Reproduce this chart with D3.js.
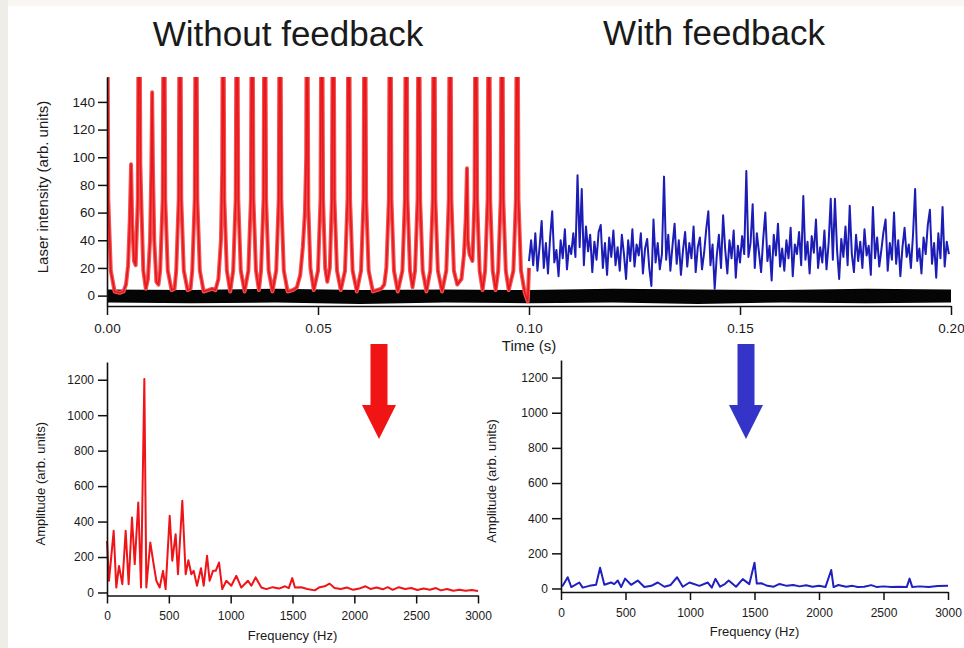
<!DOCTYPE html>
<html>
<head>
<meta charset="utf-8">
<script src="https://cdn.jsdelivr.net/npm/d3@7"></script>
<style>
  body { margin: 0; background: #fff; }
  svg { display: block; }
  text { font-family: "Liberation Sans", Arial, sans-serif; fill: #1a1a1a; }
</style>
</head>
<body>
<div id="chart"></div>
<script>
// ---- data ----

// time axis ticks and intensity ticks (top panel)
let timeTicks = [0, 0.05, 0.10, 0.15, 0.20];
let intensityTicks = [0, 20, 40, 60, 80, 100, 120, 140];
let freqTicks = [0, 500, 1000, 1500, 2000, 2500, 3000];
let ampTicks = [0, 200, 400, 600, 800, 1000, 1200];

// red trace, without feedback: [time (s), intensity]; full spikes run off the top
let redTrace = [
  [0.0000, 300], [0.0003, 70], [0.0009, 18], [0.0018, 3], [0.0030, 2], [0.0039, 3],
  [0.0045, 8], [0.0050, 22], [0.0054, 55], [0.0057, 95], [0.0060, 50], [0.0064, 25],
  [0.0068, 22], [0.0073, 70], [0.0076, 300], [0.0079, 95], [0.0082, 60], [0.0086, 18], [0.0092, 5],
  [0.0097, 12], [0.0102, 40], [0.0105, 90], [0.0107, 147], [0.0109, 90], [0.0112, 40], [0.0117, 10], [0.0122, 8],
  [0.0126, 18], [0.0132, 70], [0.0135, 300], [0.0138, 70], [0.0144, 18], [0.0153, 4],
  [0.0160, 5], [0.0164, 18], [0.0170, 70], [0.0173, 300], [0.0176, 70], [0.0182, 18], [0.0191, 4],
  [0.0198, 5], [0.0202, 18], [0.0208, 70], [0.0211, 300], [0.0214, 70], [0.0220, 18], [0.0229, 3],
  [0.0240, 4], [0.0250, 5],
  [0.0257, 4], [0.0264, 12], [0.0270, 40], [0.0273, 90], [0.0275, 300], [0.0278, 70], [0.0284, 18], [0.0292, 3],
  [0.0299, 18], [0.0305, 70], [0.0308, 300], [0.0311, 70], [0.0317, 18], [0.0326, 3],
  [0.0335, 18], [0.0341, 70], [0.0344, 300], [0.0347, 70], [0.0353, 18], [0.0360, 4],
  [0.0365, 18], [0.0371, 70], [0.0374, 300], [0.0377, 70], [0.0383, 18], [0.0392, 3],
  [0.0401, 18], [0.0407, 70], [0.0410, 300], [0.0413, 70], [0.0419, 18], [0.0428, 3],
  [0.0440, 4],
  [0.0450, 6], [0.0458, 15], [0.0464, 35], [0.0469, 60], [0.0472, 100], [0.0474, 300], [0.0477, 65], [0.0482, 20], [0.0490, 4],
  [0.0500, 18], [0.0506, 70], [0.0509, 300], [0.0512, 70], [0.0517, 20], [0.0522, 10],
  [0.0528, 20], [0.0533, 70], [0.0536, 300], [0.0539, 70], [0.0545, 18], [0.0554, 4],
  [0.0564, 18], [0.0570, 70], [0.0573, 300], [0.0576, 70], [0.0582, 18], [0.0592, 3],
  [0.0602, 18], [0.0608, 70], [0.0611, 300], [0.0614, 70], [0.0620, 18], [0.0630, 3],
  [0.0640, 4], [0.0650, 5],
  [0.0657, 8], [0.0662, 20], [0.0668, 70], [0.0671, 300], [0.0674, 70], [0.0680, 18], [0.0689, 3],
  [0.0700, 18], [0.0706, 70], [0.0709, 300], [0.0712, 70], [0.0718, 18], [0.0724, 6],
  [0.0730, 18], [0.0736, 70], [0.0739, 300], [0.0742, 70], [0.0748, 18], [0.0757, 3],
  [0.0766, 18], [0.0772, 70], [0.0775, 300], [0.0778, 70], [0.0784, 18], [0.0794, 3],
  [0.0804, 18], [0.0810, 70], [0.0813, 300], [0.0816, 70], [0.0822, 18], [0.0830, 8],
  [0.0840, 12], [0.0846, 30], [0.0850, 55], [0.0853, 92], [0.0855, 40], [0.0859, 30],
  [0.0866, 25], [0.0871, 70], [0.0874, 300], [0.0877, 70], [0.0883, 18], [0.0890, 4],
  [0.0896, 18], [0.0902, 70], [0.0905, 300], [0.0908, 70], [0.0914, 18], [0.0921, 4],
  [0.0927, 18], [0.0933, 70], [0.0936, 300], [0.0939, 70], [0.0945, 18], [0.0952, 4],
  [0.0963, 18], [0.0969, 70], [0.0972, 300], [0.0975, 70], [0.0981, 18], [0.0990, 2], [0.0997, -4], [0.1000, 20]
];

// blue trace, with feedback: starts at 0.100 s, one value every 0.5 ms
let blueStart = 0.100;
let blueStep = 0.0005;
let blueValues = [
  25, 40, 22, 45, 18, 35, 54, 20, 38, 16, 42, 61, 24, 33, 14, 40, 27, 48, 19, 36,
  30, 45, 28, 87, 35, 77, 22, 50, 32, 44, 17, 39, 26, 46, 51, 20, 38, 15, 42, 28,
  47, 22, 35, 18, 44, 30, 12, 40, 25, 48, 21, 37, 29, 45, 16, 34, 41, 20, 7, 55,
  24, 38, 19, 30, 86, 26, 44, 18, 36, 52, 23, 40, 15, 33, 46, 21, 38, 27, 50, 17,
  35, 42, 19, 31, 48, 61, 22, 37, 5, 29, 44, 20, 58, 33, 16, 40, 27, 47, 13, 36,
  24, 43, 30, 90, 28, 38, 66, 20, 45, 31, 17, 41, 60, 25, 36, 11, 44, 29, 52, 21,
  34, 18, 40, 27, 49, 14, 37, 30, 46, 22, 72, 26, 39, 16, 43, 31, 55, 20, 35, 24,
  47, 19, 38, 70, 26, 70, 33, 12, 41, 28, 50, 22, 65, 30, 17, 44, 25, 39, 20, 48,
  29, 36, 15, 64, 27, 42, 21, 33, 46, 55, 18, 38, 26, 60, 23, 40, 14, 35, 49, 28,
  37, 20, 44, 77, 25, 34, 16, 42, 30, 51, 62, 23, 38, 13, 45, 27, 64, 21, 39, 30
];

// black reference trace (dense noise band around zero): envelope
let blackTime = [0, 0.02, 0.04, 0.06, 0.08, 0.10, 0.12, 0.14, 0.16, 0.18, 0.20];
let blackHigh = [4.5, 4, 5, 4, 4.5, 4, 5, 4.5, 4, 5, 4.5];
let blackLow  = [-5, -5.5, -5, -6, -5, -5.5, -5, -6, -5, -5.5, -5];

// spectra: [frequency (Hz), amplitude]
let redSpectrum = [
  [0, 290], [16, 66], [54, 348], [75, 28], [97, 150], [124, 47], [151, 348], [175, 47],
  [202, 423], [224, 160], [253, 508], [275, 28], [302, 1204], [318, 28], [350, 282], [377, 160],
  [399, 66], [426, 28], [453, 122], [474, 19], [507, 433], [528, 179], [555, 329], [574, 103],
  [609, 517], [636, 103], [658, 182], [682, 103], [701, 122], [728, 38], [760, 137], [782, 38],
  [809, 207], [830, 66], [857, 122], [879, 122], [906, 169], [932, 19], [965, 66], [1005, 38],
  [1046, 94], [1086, 28], [1140, 66], [1167, 38], [1202, 85], [1248, 28], [1288, 19], [1340, 30],
  [1390, 22], [1440, 35], [1470, 25], [1498, 81], [1520, 28], [1570, 30], [1620, 20], [1680, 12],
  [1720, 30], [1760, 35], [1800, 50], [1840, 25], [1890, 20], [1940, 28], [1990, 15], [2040, 22],
  [2090, 35], [2130, 20], [2180, 28], [2230, 18], [2270, 30], [2310, 15], [2360, 30], [2410, 20],
  [2460, 25], [2510, 14], [2560, 22], [2610, 15], [2660, 25], [2700, 12], [2750, 20], [2800, 10],
  [2850, 15], [2900, 10], [2950, 14], [3000, 9]
];
let blueSpectrum = [
  [0, 15], [13, 15], [52, 64], [80, 8], [110, 20], [142, 34], [168, 5], [220, 15],
  [272, 21], [303, 118], [336, 21], [388, 34], [413, 25], [440, 45], [466, 8], [497, 56],
  [543, 21], [595, 45], [646, 8], [700, 15], [750, 34], [802, 10], [850, 20], [900, 64],
  [944, 10], [996, 34], [1073, 15], [1138, 34], [1169, 5], [1197, 55], [1233, 10], [1270, 25],
  [1300, 45], [1357, 10], [1409, 53], [1460, 25], [1500, 147], [1518, 28], [1553, 30], [1600, 15],
  [1650, 10], [1694, 26], [1750, 15], [1800, 20], [1850, 12], [1900, 18], [1950, 10], [2000, 15],
  [2050, 8], [2095, 105], [2113, 8], [2150, 20], [2210, 10], [2260, 15], [2300, 8], [2350, 10],
  [2405, 19], [2450, 8], [2500, 12], [2560, 8], [2620, 10], [2680, 8], [2702, 56], [2723, 8],
  [2780, 12], [2850, 8], [2920, 14], [3000, 15]
];

// ---- layout ----
let svg_width = 964;
let svg_height = 648;
let red = '#e8161b';
let blue = '#1c1cb6';

let svg = d3.select('#chart')
            .append('svg')
            .attr('width', svg_width)
            .attr('height', svg_height);

// page frame: beige strip on the left and top
svg.append('rect').attr('x', 0).attr('y', 0).attr('width', svg_width).attr('height', svg_height).attr('fill', '#fff');
svg.append('rect').attr('x', 0).attr('y', 0).attr('width', svg_width).attr('height', 6).attr('fill', '#faf6f1');
svg.append('rect').attr('x', 0).attr('y', 0).attr('width', 8).attr('height', svg_height).attr('fill', '#efede7');

// titles
svg.append('text').attr('x', 288).attr('y', 46).attr('text-anchor', 'middle')
   .attr('font-size', 35).text('Without feedback');
svg.append('text').attr('x', 714).attr('y', 45).attr('text-anchor', 'middle')
   .attr('font-size', 35).text('With feedback');

// helper for Igor-like axes
function styleAxis(g, fontSize){
    g.select('.domain').attr('stroke', '#111').attr('stroke-width', 1.6);
    g.selectAll('.tick line').attr('stroke', '#111').attr('stroke-width', 1.5);
    g.selectAll('.tick text').attr('font-size', fontSize).attr('fill', '#222')
     .attr('font-family', '"Liberation Sans", Arial, sans-serif');
}

// ---------- top panel: laser intensity vs time ----------
let topX = d3.scaleLinear().domain([0, 0.2]).range([107, 951]);
let topY = d3.scaleLinear().domain([-7.5, 158]).range([306, 77]);

svg.append('clipPath').attr('id', 'clipTop')
   .append('rect').attr('x', 107).attr('y', 77).attr('width', 844).attr('height', 229);

let topPlot = svg.append('g').attr('clip-path', 'url(#clipTop)');

// black noise band
let blackBand = blackTime.map((t, i) => [t, blackLow[i], blackHigh[i]]);
topPlot.append('path')
   .datum(blackBand)
   .attr('d', d3.area().x(d => topX(d[0])).y0(d => topY(d[1])).y1(d => topY(d[2])))
   .attr('fill', '#050505');

// red trace: pale halo plus darker core
let traceLine = d3.line().x(d => topX(d[0])).y(d => topY(d[1]));
topPlot.append('path').datum(redTrace).attr('d', traceLine)
   .attr('fill', 'none').attr('stroke', '#f25252').attr('stroke-width', 4)
   .attr('stroke-linejoin', 'round');
topPlot.append('path').datum(redTrace).attr('d', traceLine)
   .attr('fill', 'none').attr('stroke', red).attr('stroke-width', 1.6)
   .attr('stroke-linejoin', 'round');

// blue trace
let blueTrace = blueValues.map((v, i) => [blueStart + i * blueStep, v]);
topPlot.append('path').datum(blueTrace).attr('d', traceLine)
   .attr('fill', 'none').attr('stroke', blue).attr('stroke-width', 2)
   .attr('stroke-linejoin', 'round');

let topYAxis = svg.append('g').attr('transform', 'translate(107,0)')
   .call(d3.axisLeft(topY).tickValues(intensityTicks).tickSize(9).tickSizeOuter(0).tickPadding(3));
styleAxis(topYAxis, 13.5);
let topXAxis = svg.append('g').attr('transform', 'translate(0,306)')
   .call(d3.axisBottom(topX).tickValues(timeTicks).tickFormat(d3.format('.2f')).tickSize(9).tickSizeOuter(0).tickPadding(8));
styleAxis(topXAxis, 13.5);

svg.append('text')
   .attr('transform', 'translate(48,187) rotate(-90)')
   .attr('text-anchor', 'middle').attr('font-size', 15)
   .text('Laser intensity (arb. units)');
svg.append('text').attr('x', 529).attr('y', 351).attr('text-anchor', 'middle')
   .attr('font-size', 15).text('Time (s)');

// ---------- bottom panels: spectra ----------
function spectrumPanel(data, color, x0, x1, yBottom, yTop, yMin, labelX){
    let x = d3.scaleLinear().domain([0, 3000]).range([x0, x1]);
    let y = d3.scaleLinear().domain([yMin, 1300]).range([yBottom, yTop]);

    svg.append('path').datum(data)
       .attr('d', d3.line().x(d => x(d[0])).y(d => y(d[1])))
       .attr('fill', 'none').attr('stroke', color).attr('stroke-width', 2)
       .attr('stroke-linejoin', 'round');

    let ya = svg.append('g').attr('transform', 'translate(' + x0 + ',0)')
       .call(d3.axisLeft(y).tickValues(ampTicks).tickFormat(d3.format('d')).tickSize(9).tickSizeOuter(0).tickPadding(4));
    styleAxis(ya, 12);
    let xa = svg.append('g').attr('transform', 'translate(0,' + yBottom + ')')
       .call(d3.axisBottom(x).tickValues(freqTicks).tickFormat(d3.format('d')).tickSize(8).tickSizeOuter(0).tickPadding(8));
    styleAxis(xa, 12);

    svg.append('text')
       .attr('transform', 'translate(' + labelX + ',' + ((yBottom + yTop) / 2 + 5) + ') rotate(-90)')
       .attr('text-anchor', 'middle').attr('font-size', 13)
       .text('Amplitude (arb. units)');
    svg.append('text').attr('x', (x0 + x1) / 2).attr('y', yBottom + 44)
       .attr('text-anchor', 'middle').attr('font-size', 13)
       .text('Frequency (Hz)');
}

spectrumPanel(redSpectrum, '#ee1418', 107, 478, 595.5, 362, -17, 45);
spectrumPanel(blueSpectrum, '#2020c0', 561, 948, 592, 360, -20, 496);

// ---------- arrows ----------
function arrow(cx, color){
    let shaft = 8.5, head = 17, top = 344, headTop = 405, tip = 439;
    let pts = [[cx - shaft, top], [cx + shaft, top], [cx + shaft, headTop], [cx + head, headTop],
               [cx, tip], [cx - head, headTop], [cx - shaft, headTop]];
    svg.append('polygon').attr('points', pts.map(p => p.join(',')).join(' ')).attr('fill', color);
}
arrow(379, '#f01414');
arrow(746, '#3434c8');
</script>
</body>
</html>
